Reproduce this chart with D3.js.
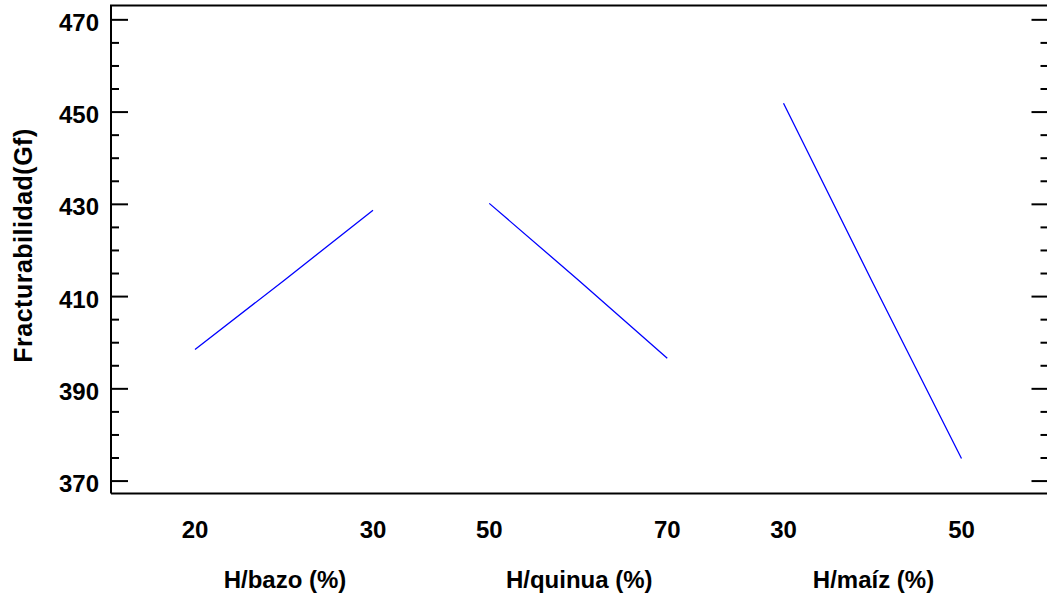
<!DOCTYPE html>
<html>
<head>
<meta charset="utf-8">
<script src="https://cdn.jsdelivr.net/npm/d3@7"></script>
<style>
  body { margin: 0; background: #fff; }
  svg { display: block; }
  text { font-family: "Liberation Sans", Arial, Helvetica, sans-serif; font-weight: bold; fill: #000; }
</style>
</head>
<body>
<svg width="1047" height="600"></svg>
<script>
// factors and their low / high levels
let factors = ["H/bazo (%)", "H/quinua (%)", "H/maíz (%)"];
let lowLevels = [20, 50, 30];
let highLevels = [30, 70, 50];

// main effect traces
let bazoX = [20, 25, 30],
    bazoY = [398.4, 413.4, 428.6];
let quinuaX = [50, 60, 70],
    quinuaY = [430.1, 413.5, 396.5];
let maizX = [30, 40, 50],
    maizY = [451.8, 413.0, 374.8];

let yMajor = [370, 390, 410, 430, 450, 470];
let yMinor = d3.range(370, 471, 5).filter(v => yMajor.indexOf(v) < 0);
let yTitle = "Fracturabilidad(Gf)";

let svg = d3.select("svg"),
    margin = {top: 5.5, right: -1.5, bottom: 106.5, left: 111},
    width = +svg.attr("width") - margin.left - margin.right,
    height = +svg.attr("height") - margin.top - margin.bottom;

let g = svg.append("g")
    .attr("transform", "translate(" + margin.left + "," + margin.top + ")");

let y = d3.scaleLinear().domain([367.2, 473.0]).range([height, 0]);

// one panel per factor, evenly spaced
let panel = d3.scalePoint().domain(factors).range([173, 761.5]);
let halfSpan = 89;
let xScales = factors.map((f, i) => d3.scaleLinear()
    .domain([lowLevels[i], highLevels[i]])
    .range([panel(f) - halfSpan, panel(f) + halfSpan]));

// frame (right edge sits just past the window border)
g.append("path")
    .attr("d", "M0," + height + "V0H" + width + "M0," + height + "H" + width)
    .attr("fill", "none")
    .attr("stroke", "#000")
    .attr("stroke-width", 2);

let leftMajor = d3.axisLeft(y).tickValues(yMajor).tickSize(-17).tickPadding(12);
let leftMinor = d3.axisLeft(y).tickValues(yMinor).tickSize(-8).tickFormat("");
let rightMajor = d3.axisRight(y).tickValues(yMajor).tickSize(-17).tickFormat("");
let rightMinor = d3.axisRight(y).tickValues(yMinor).tickSize(-8).tickFormat("");

let la = g.append("g").call(leftMajor);
g.append("g").call(leftMinor);
g.append("g").attr("transform", "translate(" + width + ",0)").call(rightMajor);
g.append("g").attr("transform", "translate(" + width + ",0)").call(rightMinor);
g.selectAll(".domain").remove();
g.selectAll(".tick line").attr("stroke", "#000").attr("stroke-width", 2);
la.selectAll(".tick text")
    .attr("font-size", 24)
    .attr("dy", null)
    .attr("y", 11)
    .attr("x", -12)
    .attr("text-anchor", "end");

// x tick labels and titles, no tick marks
factors.forEach((f, i) => {
    let xs = xScales[i];
    g.append("g").selectAll("text")
        .data([lowLevels[i], highLevels[i]])
        .join("text")
        .attr("x", d => xs(d))
        .attr("y", 538 - margin.top)
        .attr("text-anchor", "middle")
        .attr("font-size", 24)
        .text(d => d);
    g.append("text")
        .attr("x", panel(f) + 1)
        .attr("y", 588 - margin.top)
        .attr("text-anchor", "middle")
        .attr("font-size", 24)
        .text(f);
});

// traces
let series = [[bazoX, bazoY], [quinuaX, quinuaY], [maizX, maizY]];
series.forEach((s, i) => {
    let pts = s[0].map((v, j) => [v, s[1][j]]);
    let line = d3.line()
        .x(d => xScales[i](d[0]))
        .y(d => y(d[1]));
    g.append("path")
        .datum(pts)
        .attr("d", line)
        .attr("fill", "none")
        .attr("stroke", "#0000ff")
        .attr("stroke-width", 1.3);
});

// y title
svg.append("text")
    .attr("transform", "translate(32,245.5) rotate(-90)")
    .attr("text-anchor", "middle")
    .attr("font-size", 25)
    .attr("letter-spacing", 0.5)
    .text(yTitle);
</script>
</body>
</html>
